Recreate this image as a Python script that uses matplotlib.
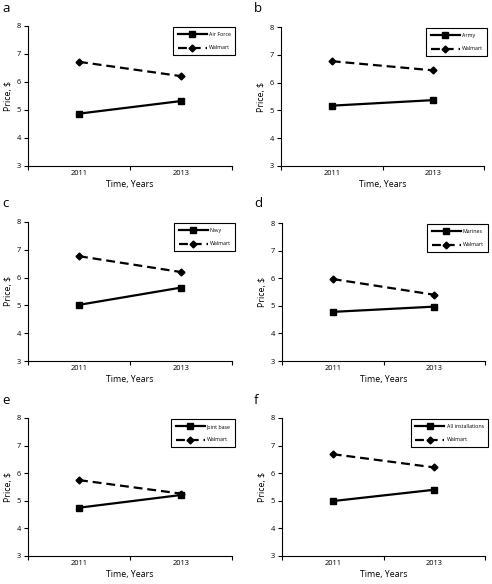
import matplotlib
matplotlib.use("Agg")
import matplotlib.pyplot as plt

plt.rcParams["font.family"] = ["Open Sans", "DejaVu Sans"]

years = ["2011", "2013"]
panel_letters = ["a", "b", "c", "d", "e", "f"]
groups = ["Air Force", "Army", "Navy", "Marines", "Joint base", "All installations"]
group_prices = [
	[4.87, 5.32],
	[5.17, 5.37],
	[5.02, 5.64],
	[4.78, 4.97],
	[4.75, 5.21],
	[4.99, 5.40],
]
walmart_prices = [
	[6.72, 6.21],
	[6.77, 6.44],
	[6.77, 6.20],
	[5.97, 5.40],
	[5.75, 5.26],
	[6.69, 6.21],
]

W, H = 492, 584
# axes boxes in pixels: left, top, right, bottom
boxes = [
	(28, 26, 232, 166),
	(281, 27, 484, 166),
	(28, 222, 232, 361),
	(282, 223, 485, 361),
	(28, 418, 232, 556),
	(282, 418, 485, 556),
]
letter_pos = [(2, 12), (254, 12), (2, 207), (254, 207), (2, 404), (254, 404)]

fig = plt.figure(figsize=(W / 100, H / 100), dpi=100)

for i in range(6):
	l, t, r, b = boxes[i]
	ax = fig.add_axes([l / W, 1 - b / H, (r - l) / W, (b - t) / H])
	xs = [0.5, 1.5]
	ax.plot(xs, group_prices[i], color="black", lw=1.6, marker="s", ms=4.5,
		label=groups[i])
	ax.plot(xs, walmart_prices[i], color="black", lw=1.6, ls=(0, (4, 2.2)),
		marker="D", ms=3.5, label="Walmart")
	ax.set_xlim(0, 2)
	ax.set_ylim(3, 8)
	ax.set_xticks([0, 1, 2])
	ax.set_xticklabels([])
	ax.set_xticks(xs, minor=True)
	ax.set_xticklabels(years, minor=True)
	ax.tick_params(axis="x", which="minor", length=0, labelsize=5.4, pad=3)
	ax.tick_params(axis="x", which="major", length=3, width=0.8, direction="out")
	ax.set_yticks([3, 4, 5, 6, 7, 8])
	ax.tick_params(axis="y", length=3, width=0.8, labelsize=5.4, pad=2)
	for s in ["top", "right"]:
		ax.spines[s].set_visible(False)
	for s in ["left", "bottom"]:
		ax.spines[s].set_linewidth(0.8)
	ax.set_xlabel("Time, Years", fontsize=6.3, labelpad=2)
	ax.set_ylabel("Price, $", fontsize=6.3, labelpad=3)
	leg = ax.legend(loc="upper right", bbox_to_anchor=(1.03, 1.01), fontsize=3.8,
		numpoints=1, handlelength=5.5, handletextpad=0.4, borderpad=0.9,
		labelspacing=1.6, fancybox=False, framealpha=1, edgecolor="black")
	leg.get_frame().set_linewidth(0.8)
	lx, ly = letter_pos[i]
	fig.text(lx / W, 1 - ly / H, panel_letters[i], fontsize=9.5, va="baseline", ha="left")

fig.savefig("out.png", dpi=100)
